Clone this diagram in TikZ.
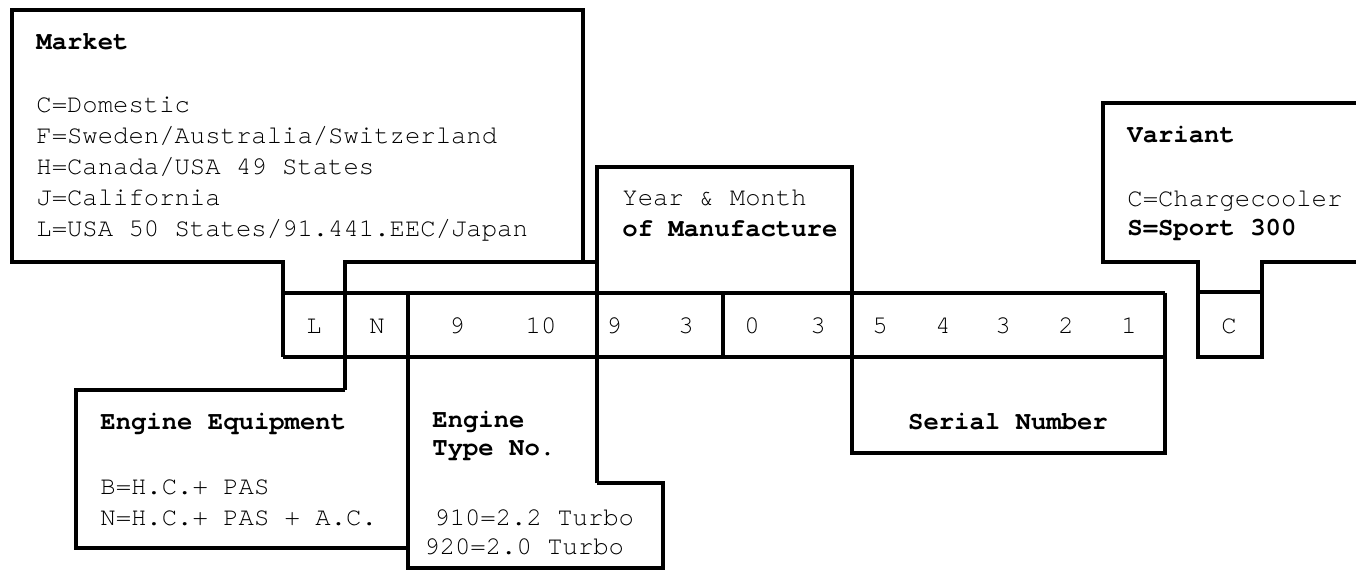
\documentclass[tikz,border=0pt]{standalone}
\usepackage{fontspec}
\setmonofont{TeX Gyre Cursor}
\begin{document}
\begin{tikzpicture}[x=0.5pt,y=-0.5pt,
  ln/.style={line width=1.8pt, line join=miter},
  t/.style={inner sep=0pt, anchor=west, font=\ttfamily\fontsize{12.8}{15}\selectfont, text height=9.6pt, text depth=1.9pt},
  tb/.style={t, font=\ttfamily\bfseries\fontsize{12.8}{15}\selectfont},
  dg/.style={t, anchor=center}]
\useasboundingbox (0,0) rectangle (1356,579);
% outlines
\draw[ln] (283,357) -- (283,262) -- (12,262) -- (12,10) -- (583,10) -- (583,262);
\draw[ln] (345,390) -- (345,262) -- (597,262);
\draw[ln] (597,483) -- (597,167) -- (852,167) -- (852,453);
\draw[ln] (283,293) -- (1165,293);
\draw[ln] (283,357) -- (1165,357);
\draw[ln] (723,293) -- (723,357);
\draw[ln] (408,293) -- (408,568) -- (663,568) -- (663,483) -- (597,483);
\draw[ln] (345,390) -- (76,390) -- (76,548) -- (408,548);
\draw[ln] (852,357) -- (852,453) -- (1165,453) -- (1165,293);
\draw[ln] (1356,103) -- (1103,103) -- (1103,262) -- (1198,262) -- (1198,357) -- (1262,357) -- (1262,262) -- (1356,262);
\draw[ln] (1198,292) -- (1262,292);
% Market
\node[tb] (mk) at (36,42) {Market};
\node[t] (mk1) at (36,105) {C=Domestic};
\node[t] (mk2) at (36,136) {F=Sweden/Australia/Switzerland};
\node[t] (mk3) at (36,167) {H=Canada/USA 49 States};
\node[t] (mk4) at (36,198) {J=California};
\node[t] (mk5) at (36,229) {L=USA 50 States/91.441.EEC/Japan};
% Year
\node[t] (ym1) at (622,198) {Year \& Month};
\node[tb] (ym2) at (622,229) {of Manufacture};
% Variant
\node[tb] (va) at (1127,135) {Variant};
\node[t] (va1) at (1127,199) {C=Chargecooler};
\node[tb] (va2) at (1127,228) {S=Sport 300};
% code digits
\node[dg] (c1) at (314,326) {L};
\node[dg] (c2) at (377,326) {N};
\node[dg] (c3) at (457,326) {9};
\node[dg] (c4) at (541,326) {10};
\node[dg] (c5) at (614,326) {9};
\node[dg] (c6) at (686,326) {3};
\node[dg] (c7) at (752,326) {0};
\node[dg] (c8) at (818,326) {3};
\node[dg] (c9) at (880,326) {5};
\node[dg] (c10) at (943,326) {4};
\node[dg] (c11) at (1003,326) {3};
\node[dg] (c12) at (1066,326) {2};
\node[dg] (c13) at (1129,326) {1};
\node[dg] (c14) at (1229,326) {C};
% Engine equipment
\node[tb] (ee) at (100,422) {Engine Equipment};
\node[t] (ee1) at (100,487) {B=H.C.+ PAS};
\node[t] (ee2) at (100,518) {N=H.C.+ PAS + A.C.};
% Engine type
\node[tb] (et) at (432,420) {Engine};
\node[tb] (et0) at (432,448) {Type No.};
\node[t] (et1) at (434,518) {910=2.2 Turbo};
\node[t] (et2) at (424,547) {920=2.0 Turbo};
% Serial
\node[tb, anchor=center] (sn) at (1008,422) {Serial Number};
\end{tikzpicture}
\end{document}
